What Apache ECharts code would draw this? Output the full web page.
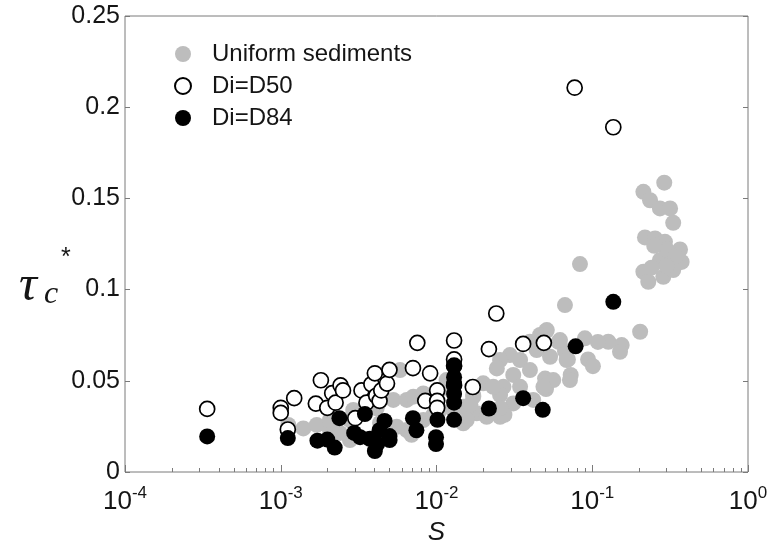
<!DOCTYPE html>
<html>
<head>
<meta charset="utf-8">
<script src="https://cdn.jsdelivr.net/npm/echarts@6/dist/echarts.min.js"></script>
<style>html,body{margin:0;padding:0;background:#fff}#c{width:769px;height:542px}</style>
</head>
<body>
<div id="c"></div>
<script>
// ---- data ----
const uniformSediments = [
  [0.290,0.1586],[0.213,0.1536],[0.235,0.149],[0.272,0.1445],[0.316,0.1445],[0.331,0.1366],
  [0.218,0.1286],[0.253,0.128],[0.293,0.1262],[0.366,0.122],[0.316,0.1198],[0.375,0.1152],
  [0.272,0.1162],[0.213,0.1098],[0.229,0.1043],[0.286,0.107],[0.331,0.1107],[0.30,0.122],
  [0.25,0.124],[0.34,0.118],[0.24,0.112],[0.30,0.113],
  [0.0834,0.114],[0.0668,0.0915],[0.203,0.0769],[0.1268,0.0714],[0.1545,0.0696],[0.0897,0.0733],
  [0.1507,0.0659],[0.1087,0.0713],[0.094,0.0617],[0.101,0.058],[0.0698,0.0617],[0.0727,0.0532],
  [0.0498,0.0512],[0.0505,0.0455],[0.0608,0.0713],[0.0505,0.0773],[0.0668,0.0663],
  [0.0511,0.0778],[0.0462,0.0751],[0.0621,0.0723],[0.0398,0.0714],[0.0296,0.0641],[0.0256,0.0614],
  [0.0344,0.0614],[0.0440,0.0669],[0.0536,0.0632],[0.0685,0.0614],[0.0398,0.0559],[0.0311,0.0532],
  [0.0244,0.0568],[0.0562,0.0504],[0.0719,0.0504],[0.0486,0.0467],[0.0344,0.0467],[0.0269,0.0467],
  [0.0172,0.0422],[0.0256,0.0422],[0.0311,0.0376],[0.0418,0.0395],[0.0256,0.0303],[0.01486,0.0358],
  [0.01486,0.0267],
  [0.001118,0.0258],[0.001396,0.0239],[0.001702,0.0258],[0.00207,0.0230],[0.00240,0.0214],
  [0.00278,0.0285],[0.00292,0.0340],[0.00278,0.0175],[0.00356,0.0376],[0.00434,0.0395],
  [0.00528,0.0395],[0.00583,0.0559],[0.00644,0.0395],[0.00710,0.0413],[0.00823,0.0431],
  [0.01052,0.0449],[0.0116,0.0504],[0.00710,0.0221],[0.00823,0.0285],[0.01052,0.0340],
  [0.01283,0.0340],[0.01563,0.0358],[0.01722,0.0413],[0.01995,0.0486],[0.02315,0.0467],
  [0.01811,0.0322],[0.0210,0.0303],[0.01563,0.0285],[0.00644,0.0230],[0.00555,0.0248],
  [0.00434,0.0269],[0.00207,0.0285],[0.00323,0.0330],[0.00413,0.0349],[0.00951,0.0312],
  [0.00692,0.0204],[0.0273,0.0314],[0.0258,0.035],[0.0165,0.037]
];
const diD50 = [
  [0.000337,0.0346],[0.00100,0.0352],[0.00100,0.0324],[0.00111,0.0233],[0.00122,0.0405],
  [0.00168,0.0375],[0.00181,0.0503],[0.00199,0.0352],[0.00214,0.0432],[0.00225,0.0380],
  [0.00242,0.0475],[0.00251,0.0447],[0.00301,0.0295],[0.00330,0.0447],[0.00355,0.0380],
  [0.00382,0.0481],[0.00402,0.0541],[0.00410,0.0418],[0.00431,0.0390],[0.00442,0.0447],
  [0.00481,0.0485],[0.00499,0.0560],[0.00706,0.0570],[0.00753,0.0708],[0.00847,0.0390],
  [0.00910,0.0541],[0.0101,0.0447],[0.0101,0.0390],[0.0101,0.0352],[0.01297,0.0721],
  [0.01297,0.0617],[0.01297,0.0583],[0.01297,0.0475],[0.0171,0.0466],[0.0217,0.0674],
  [0.0242,0.0869],[0.0360,0.0702],[0.0489,0.0708],[0.0771,0.2107],[0.1365,0.1890]
];
const diD84 = [
  [0.000337,0.0195],[0.00111,0.0186],[0.00172,0.0172],[0.00199,0.0178],[0.00222,0.0134],
  [0.00238,0.0295],[0.00296,0.0214],[0.00323,0.0191],[0.00347,0.0318],[0.00373,0.0182],
  [0.00402,0.0115],[0.00416,0.0153],[0.00431,0.0229],[0.00464,0.0280],[0.00499,0.0197],
  [0.00500,0.0175],[0.00706,0.0295],[0.00743,0.0229],[0.00993,0.0191],[0.00993,0.0153],
  [0.01014,0.0286],[0.01297,0.0580],[0.01297,0.0520],[0.01297,0.0485],[0.01297,0.0428],
  [0.01297,0.0380],[0.01297,0.0286],[0.0217,0.0348],[0.0360,0.0405],[0.0481,0.0341],
  [0.0782,0.0689],[0.1365,0.0933]
];
const seriesNames = ['Uniform sediments', 'Di=D50', 'Di=D84'];
const xMajorTicks = [1e-4, 1e-3, 1e-2, 1e-1, 1];
const xMinorTicks = [];
for (let e = -4; e < 0; e++) for (let m = 2; m <= 9; m++) xMinorTicks.push(m * Math.pow(10, e));

const AX = '#7a7a7a';
const TXT = '#151515';
const chart = echarts.init(document.getElementById('c'), null, {renderer: 'canvas'});
chart.setOption({
  animation: false,
  backgroundColor: '#fff',
  grid: {left: 125, right: 21, top: 16, bottom: 70, containLabel: false, outerBoundsMode: 'none',
    show: true, borderColor: AX, borderWidth: 1, backgroundColor: 'transparent'},
  legend: {
    orient: 'vertical', left: 169, top: 37, itemWidth: 16, itemHeight: 16, itemGap: 8,
    data: seriesNames,
    textStyle: {fontFamily: 'Liberation Sans', fontSize: 24, color: TXT, lineHeight: 24, padding: [0, 0, 0, 16]},
    selectedMode: false
  },
  xAxis: [{
    type: 'log', logBase: 10, min: 1e-4, max: 1, position: 'bottom',
    axisLine: {show: false},
    splitLine: {show: false},
    axisTick: {show: true, inside: true, length: 7, lineStyle: {color: AX}, customValues: xMajorTicks},
    axisLabel: {
      customValues: xMajorTicks, margin: 13,
      formatter: v => '{b|10}{s|' + Math.round(Math.log10(v)) + '}',
      rich: {
        b: {fontFamily: 'Liberation Sans', fontSize: 26, color: TXT, lineHeight: 30, verticalAlign: 'bottom'},
        s: {fontFamily: 'Liberation Sans', fontSize: 17, color: TXT, lineHeight: 17, verticalAlign: 'top'}
      }
    },
    name: 'S', nameLocation: 'middle', nameGap: 46,
    nameTextStyle: {fontFamily: 'Liberation Sans', fontSize: 26, fontStyle: 'italic', color: TXT}
  }, {
    type: 'log', logBase: 10, min: 1e-4, max: 1, position: 'bottom',
    axisLine: {show: false}, splitLine: {show: false},
    axisLabel: {show: false},
    axisTick: {show: true, inside: true, length: 4, lineStyle: {color: AX}, customValues: xMinorTicks}
  }],
  yAxis: [{
    type: 'value', min: 0, max: 0.25, interval: 0.05, position: 'left',
    axisLine: {show: false}, splitLine: {show: false},
    axisTick: {show: true, inside: true, length: 5, lineStyle: {color: AX}},
    axisLabel: {fontFamily: 'Liberation Sans', fontSize: 25, color: TXT, margin: 5,
      formatter: v => String(+v.toFixed(2))}
  }, {
    type: 'value', min: 0, max: 0.25, interval: 0.05, position: 'right',
    axisLine: {show: false}, splitLine: {show: false},
    axisTick: {show: true, inside: true, length: 5, lineStyle: {color: AX}},
    axisLabel: {show: false}
  }],
  graphic: [
    {type: 'text', left: 19, top: 262, style: {text: 'τ', font: 'italic 50px "Liberation Serif"', fill: TXT}},
    {type: 'text', left: 44, top: 279, style: {text: 'c', font: 'italic 32px "Liberation Serif"', fill: TXT}},
    {type: 'text', left: 61, top: 246, style: {text: '*', font: '25px "Liberation Sans"', fill: TXT}}
  ],
  series: [{
    name: seriesNames[0], type: 'scatter', symbol: 'circle', symbolSize: 16,
    itemStyle: {color: '#bdbdbd', opacity: 1},
    data: uniformSediments
  }, {
    name: seriesNames[1], type: 'scatter', symbol: 'circle', symbolSize: 15,
    itemStyle: {color: '#ffffff', borderColor: '#000', borderWidth: 1.7, opacity: 1},
    data: diD50
  }, {
    name: seriesNames[2], type: 'scatter', symbol: 'circle', symbolSize: 16,
    itemStyle: {color: '#000000', opacity: 1},
    data: diD84
  }]
});
</script>
</body>
</html>
